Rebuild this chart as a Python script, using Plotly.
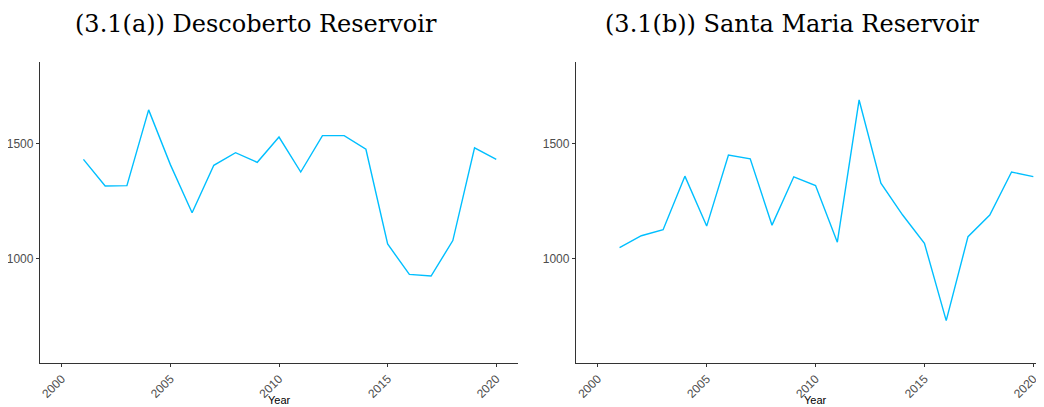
import plotly.graph_objects as go
from plotly.subplots import make_subplots

# yearly values
years = list(range(2001, 2021))
descoberto = [1433, 1317, 1319, 1648, 1410, 1201, 1407, 1462, 1420, 1530,
              1378, 1536, 1536, 1477, 1065, 933, 926, 1080, 1483, 1433]
santa_maria = [1049, 1101, 1127, 1360, 1143, 1452, 1435, 1147, 1357, 1319,
               1073, 1691, 1329, 1191, 1068, 732, 1097, 1191, 1378, 1358]
titles = ["(3.1(a)) Descoberto Reservoir", "(3.1(b)) Santa Maria Reservoir"]
x_ticks = [2000, 2005, 2010, 2015, 2020]
y_ticks = [1000, 1500]

# page has an 8px body margin, so the figure is 8px smaller and shifted
W, H = 1036, 399
fig = make_subplots(rows=1, cols=2)

line_col = "#00BFFF"
fig.add_trace(go.Scatter(x=years, y=descoberto, mode="lines",
                         line=dict(color=line_col, width=1.4), showlegend=False), 1, 1)
fig.add_trace(go.Scatter(x=years, y=santa_maria, mode="lines",
                         line=dict(color=line_col, width=1.4), showlegend=False), 1, 2)

axis_common = dict(showgrid=False, zeroline=False, showline=True, linecolor="#333333",
                   linewidth=1.3, ticks="outside", ticklen=3, tickcolor="#333333",
                   automargin=False,
                   tickfont=dict(family="Liberation Sans", size=12, color="#4d4d4d"))

fig.update_xaxes(tickvals=x_ticks, tickangle=-45, **axis_common)
fig.update_yaxes(tickvals=y_ticks, range=[548, 1856], **axis_common)

fig.update_layout(
    xaxis=dict(domain=[32 / W, 510 / W], range=[1999, 2021]),
    xaxis2=dict(domain=[568 / W, 1.0], range=[1999, 2020.49]),
)

for i, t in enumerate(titles):
    fig.add_annotation(text=t, x=[248 / W, 784 / W][i], y=1, yref="paper", xref="paper",
                       xanchor="center", yanchor="middle", yshift=38, showarrow=False,
                       font=dict(family="DejaVu Serif", size=24, color="black"))
    fig.add_annotation(text="Year", x=[271 / W, 807 / W][i], y=0, yref="paper", xref="paper",
                       xanchor="center", yanchor="middle", yshift=-37, showarrow=False,
                       font=dict(family="Liberation Sans", size=11, color="black"))

fig.update_layout(width=W, height=H, margin=dict(l=0, r=0, t=54, b=44),
                  plot_bgcolor="white", paper_bgcolor="white")

fig.write_html("out.html")
